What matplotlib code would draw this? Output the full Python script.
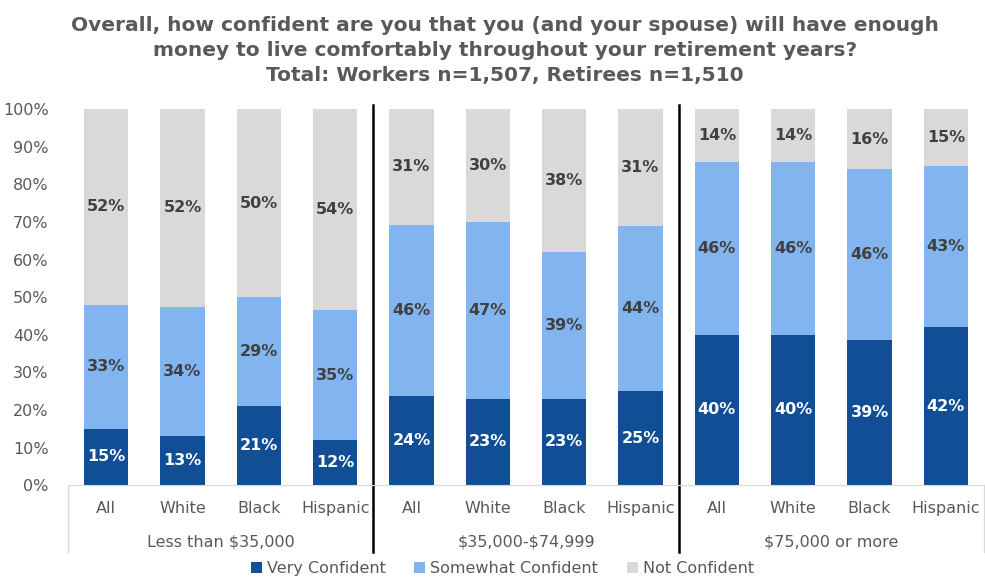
import numpy as np
import matplotlib.pyplot as plt

# data
groups = ['Less than $35,000', '$35,000-$74,999', '$75,000 or more']
cats = ['All', 'White', 'Black', 'Hispanic']
very = [15, 13, 21, 12, 24, 23, 23, 25, 40, 40, 39, 42]
somewhat = [33, 34, 29, 35, 46, 47, 39, 44, 46, 46, 46, 43]
notconf = [52, 52, 50, 54, 31, 30, 38, 31, 14, 14, 16, 15]

series = ['Very Confident', 'Somewhat Confident', 'Not Confident']
colors = ['#114E96', '#82B5EF', '#D9D9D9']
txt_colors = ['white', '#404040', '#404040']

plt.rcParams['font.family'] = ['DejaVu Sans']
plt.rcParams['text.parse_math'] = False  # dollar signs in the group names

vals = np.array([very, somewhat, notconf], dtype=float)
# 100% stacked, like the original spreadsheet chart
shares = vals / vals.sum(axis=0) * 100

fig = plt.figure(figsize=(9.85, 5.81), dpi=100)
ax = fig.add_axes([0.069, 0.165, 0.930, 0.647])

x = np.arange(len(very))
bottom = np.zeros(len(very))
for i in range(3):
    ax.bar(x, shares[i], 0.58, bottom=bottom, color=colors[i], label=series[i])
    for xi, b, h, v in zip(x, bottom, shares[i], vals[i]):
        ax.text(xi, b + h / 2, f'{v:.0f}%', ha='center', va='center',
                fontsize=11.5, fontweight='bold', color=txt_colors[i])
    bottom += shares[i]

ax.set_xlim(-0.5, len(very) - 0.5)
ax.set_ylim(0, 100)
ax.set_yticks(np.arange(0, 101, 10))
ax.set_yticklabels([f'{t}%' for t in range(0, 101, 10)])
ax.tick_params(axis='y', length=0, labelsize=11.5, labelcolor='#595959', pad=14)
ax.set_xticks([])
for s in ['top', 'right', 'left']:
    ax.spines[s].set_visible(False)
ax.spines['bottom'].set_color('#D9D9D9')

# category and group labels
trans = ax.get_xaxis_transform()
for xi in x:
    ax.text(xi, -0.062, cats[xi % 4], transform=trans,
            ha='center', va='center', fontsize=11.5, color='#595959')
for g, name in enumerate(groups):
    ax.text(g * 4 + 1.5, -0.15, name, transform=trans,
            ha='center', va='center', fontsize=11.5, color='#595959')

# separators
for xs in [-0.5, len(very) - 0.5]:
    ax.plot([xs, xs], [0, -0.178], transform=trans, color='#D9D9D9', lw=1, clip_on=False)
for xs in [3.5, 7.5]:
    ax.plot([xs, xs], [1.011, -0.178], transform=trans, color='black', lw=1.8, clip_on=False)

fig.text(0.513, 0.913,
         'Overall, how confident are you that you (and your spouse) will have enough\n'
         'money to live comfortably throughout your retirement years?\n'
         'Total: Workers n=1,507, Retirees n=1,510',
         ha='center', va='center', fontsize=14.5, fontweight='bold', color='#595959',
         linespacing=1.42)

fig.legend(loc='center', bbox_to_anchor=(0.51, 0.022), ncol=3, frameon=False,
           fontsize=11.5, labelcolor='#595959', handlelength=0.7, handleheight=0.7,
           handletextpad=0.3, columnspacing=1.8)

fig.savefig('out.png', dpi=100)
